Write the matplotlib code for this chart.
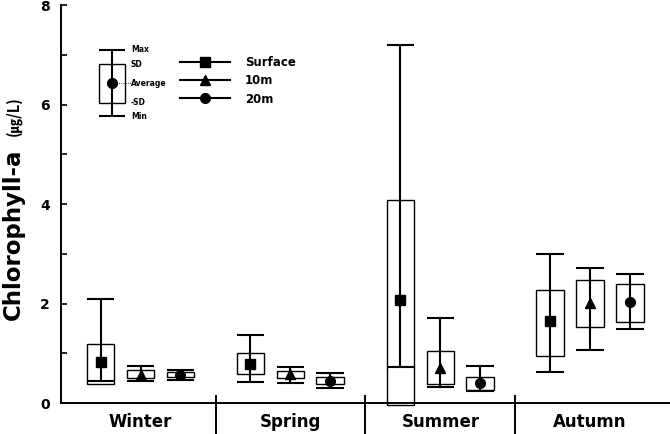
import matplotlib.pyplot as plt
from matplotlib.lines import Line2D
from matplotlib.patches import Rectangle

plt.rcParams['font.family'] = ['DejaVu Sans']
plt.rcParams['font.weight'] = 'bold'

seasons = ['Winter', 'Spring', 'Summer', 'Autumn']
depths = ['Surface', '10m', '20m']
depth_markers = ['s', '^', 'o']
depth_msize = [6.5, 7.5, 7]

# one row per depth (Surface, 10m, 20m), one value per season
avg_vals = [[0.82, 0.78, 2.07, 1.65],
            [0.56, 0.58, 0.70, 2.02],
            [0.57, 0.45, 0.40, 2.03]]
sd_high = [[1.18, 1.00, 4.08, 2.27],
           [0.66, 0.64, 1.05, 2.47],
           [0.62, 0.52, 0.53, 2.39]]
sd_low = [[0.38, 0.58, -0.03, 0.94],
          [0.51, 0.50, 0.38, 1.52],
          [0.52, 0.38, 0.26, 1.63]]
max_vals = [[2.10, 1.37, 7.19, 2.99],
            [0.74, 0.73, 1.70, 2.72],
            [0.66, 0.60, 0.74, 2.59]]
min_vals = [[0.45, 0.42, 0.72, 0.63],
            [0.44, 0.40, 0.33, 1.07],
            [0.46, 0.31, 0.24, 1.49]]

# explanation key in the top left corner: min, -SD, average, SD, max
key_vals = [5.76, 6.04, 6.43, 6.81, 7.10]
key_labels = ['Min', '-SD', 'Average', 'SD', 'Max']
key_x = -0.19

offsets = [-0.267, 0.0, 0.265]
box_w = 0.184


def draw_box(ax, x, lo, hi, mn, mx, w, lw_box=1.0, lw_bar=1.5):
    ax.add_patch(Rectangle((x - w / 2, lo), w, hi - lo, fill=False,
                           edgecolor='black', lw=lw_box, clip_on=False, zorder=2))
    ax.vlines(x, mn, mx, color='black', lw=lw_bar, zorder=3)
    ax.hlines([mn, mx], x - w / 2, x + w / 2, color='black', lw=lw_bar, zorder=3)


fig = plt.figure(figsize=(6.7, 4.34), dpi=100)
ax = fig.add_axes([0.091, 0.0714, 0.909, 0.917])

for d in range(len(depths)):
    for i in range(len(seasons)):
        x = i + offsets[d]
        draw_box(ax, x, sd_low[d][i], sd_high[d][i], min_vals[d][i], max_vals[d][i], box_w)
        ax.plot(x, avg_vals[d][i], marker=depth_markers[d], ms=depth_msize[d],
                color='black', zorder=4)

# key
draw_box(ax, key_x, key_vals[1], key_vals[3], key_vals[0], key_vals[4], 0.172)
ax.plot(key_x, key_vals[2], marker='o', ms=7, color='black', zorder=4)
ax.plot([key_x, key_x + 0.125], [key_vals[2], key_vals[2]], color='black',
        lw=0.6, ls=':', zorder=3)
for v, lab in zip(key_vals, key_labels):
    ax.text(key_x + 0.125, v, lab, fontsize=5.5, fontweight='bold',
            va='center', ha='left')

handles = [Line2D([], [], color='black', lw=1.5, marker=m, ms=s)
           for m, s in zip(depth_markers, depth_msize)]
ax.legend(handles, depths, loc='upper left', bbox_to_anchor=(0.195, 0.872),
          frameon=False, fontsize=8.5, handlelength=4.3, handletextpad=1.2,
          labelspacing=0.45, borderpad=0, borderaxespad=0)

ax.set_xlim(-0.532, 3.533)
ax.set_ylim(0, 8)
ax.set_yticks([0, 2, 4, 6, 8])
ax.set_yticks([1, 3, 5, 7], minor=True)
ax.tick_params(axis='y', which='both', direction='in', length=4, width=1.2,
               labelsize=10, pad=8)
ax.set_xticks(range(len(seasons)))
ax.set_xticklabels(seasons, fontsize=12, fontweight='bold')
ax.tick_params(axis='x', length=0, pad=7)
for lab in ax.get_yticklabels():
    lab.set_fontweight('bold')

ax.vlines([0.5, 1.5, 2.5], -0.09, 0.02, transform=ax.get_xaxis_transform(),
          color='black', lw=1.4, clip_on=False)

for side in ['top', 'right']:
    ax.spines[side].set_visible(False)
for side in ['left', 'bottom']:
    ax.spines[side].set_linewidth(1.4)

fig.text(0.020, 0.263, 'Chlorophyll-a', rotation=90, ha='center', va='bottom',
         fontsize=16.5, fontweight='bold')
fig.text(0.020, 0.686, '(㎍/L)', rotation=90, ha='center', va='bottom',
         fontsize=10.5, family=['Noto Sans CJK KR', 'DejaVu Sans'])

fig.savefig('out.png', dpi=100)
